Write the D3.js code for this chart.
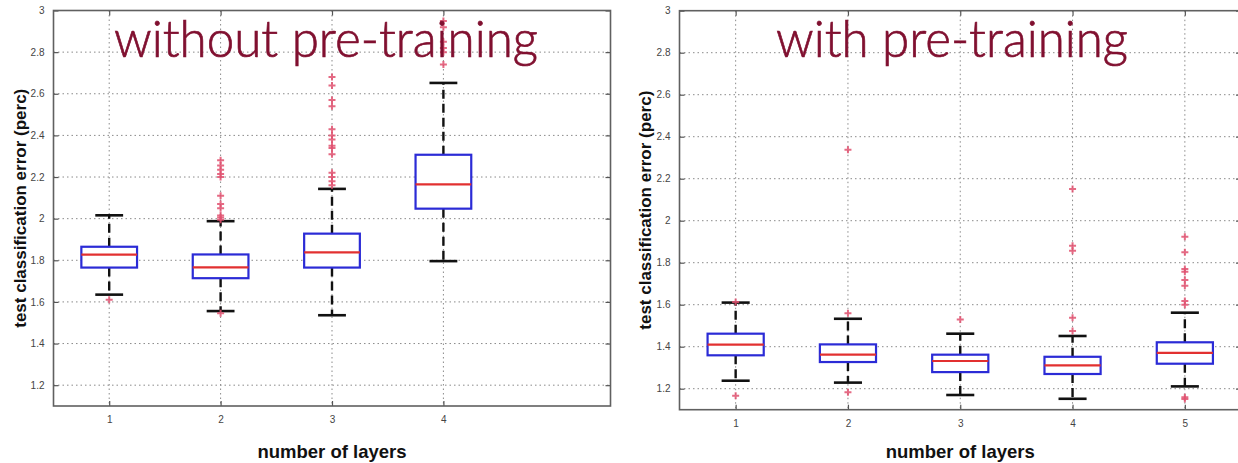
<!DOCTYPE html>
<html>
<head>
<meta charset="utf-8">
<script src="https://cdn.jsdelivr.net/npm/d3@7/dist/d3.min.js"></script>
<style>
  html, body { margin: 0; padding: 0; background: #fff; }
  svg { display: block; }
</style>
</head>
<body>
<svg id="chart" width="1238" height="463"></svg>
<script>
// ---------- DATA ----------
const yTicks = [1.2, 1.4, 1.6, 1.8, 2, 2.2, 2.4, 2.6, 2.8, 3];
const yTickLabels = ["1.2", "1.4", "1.6", "1.8", "2", "2.2", "2.4", "2.6", "2.8", "3"];

// Left panel: without pre-training
const noPreLayers = [1, 2, 3, 4];
const noPreLow  = [1.635, 1.556, 1.536, 1.796];
const noPreQ1   = [1.765, 1.714, 1.765, 2.048];
const noPreMed  = [1.827, 1.766, 1.838, 2.165];
const noPreQ3   = [1.865, 1.828, 1.928, 2.307];
const noPreHigh = [2.016, 1.988, 2.143, 2.652];
const noPreOutliers = [
  [1.61],
  [1.545, 1.995, 2.005, 2.015, 2.05, 2.07, 2.11, 2.20, 2.215, 2.235, 2.255, 2.28],
  [2.16, 2.18, 2.20, 2.22, 2.31, 2.34, 2.35, 2.38, 2.40, 2.43, 2.54, 2.57, 2.64, 2.68],
  [2.74, 2.80, 2.82, 2.85, 2.92, 2.95]
];

// Right panel: with pre-training
const preLayers = [1, 2, 3, 4, 5];
const preLow  = [1.238, 1.229, 1.170, 1.152, 1.211];
const preQ1   = [1.359, 1.327, 1.279, 1.270, 1.319];
const preMed  = [1.410, 1.362, 1.332, 1.311, 1.371];
const preQ3   = [1.462, 1.411, 1.362, 1.352, 1.421];
const preHigh = [1.610, 1.533, 1.462, 1.451, 1.562];
const preOutliers = [
  [1.167, 1.613],
  [1.183, 1.559, 2.338],
  [1.530],
  [1.475, 1.538, 1.857, 1.881, 2.151],
  [1.151, 1.159, 1.600, 1.618, 1.690, 1.718, 1.757, 1.770, 1.850, 1.924]
];

const titles = ["without pre-training", "with pre-training"];
const yLabel = "test classification error (perc)";
const xLabel = "number of layers";

// ---------- DRAW ----------
const svg = d3.select("#chart");

function drawPanel(cfg) {
  const g = svg.append("g");
  const x = d3.scaleLinear().domain([0.5, 5.5]).range([cfg.left, cfg.right]);
  const y = d3.scaleLinear().domain([1.1, 3]).range([cfg.bottom, cfg.top]);

  const plotRight = Math.min(cfg.right, 1240);

  // grid: horizontal
  g.append("g").selectAll("line").data(yTicks.slice(0, -1)).join("line")
    .attr("x1", cfg.left).attr("x2", plotRight)
    .attr("y1", d => y(d)).attr("y2", d => y(d))
    .attr("stroke", "#8a8a8a").attr("stroke-width", 1)
    .attr("stroke-dasharray", "1.5,3");
  // grid: vertical
  g.append("g").selectAll("line").data(cfg.layers).join("line")
    .attr("x1", d => x(d)).attr("x2", d => x(d))
    .attr("y1", cfg.top).attr("y2", cfg.bottom)
    .attr("stroke", "#8a8a8a").attr("stroke-width", 1)
    .attr("stroke-dasharray", "1.5,3");

  // axes via d3 axes (inward ticks)
  const yAxis = d3.axisLeft(y).tickValues(yTicks)
    .tickFormat((d, i) => yTickLabels[i]).tickSizeInner(-5).tickSizeOuter(0).tickPadding(9);
  g.append("g").attr("transform", `translate(${cfg.left},0)`).call(yAxis);
  const yAxisR = d3.axisRight(y).tickValues(yTicks).tickFormat("").tickSizeInner(-5).tickSizeOuter(0);
  g.append("g").attr("transform", `translate(${cfg.right},0)`).call(yAxisR);
  const xAxis = d3.axisBottom(x).tickValues(cfg.layers).tickFormat(d3.format("d"))
    .tickSizeInner(-5).tickSizeOuter(0).tickPadding(10);
  g.append("g").attr("transform", `translate(0,${cfg.bottom})`).call(xAxis);
  const xAxisT = d3.axisTop(x).tickValues(cfg.layers).tickFormat("").tickSizeInner(-5).tickSizeOuter(0);
  g.append("g").attr("transform", `translate(0,${cfg.top})`).call(xAxisT);

  g.selectAll(".domain").remove();
  g.selectAll(".tick line").attr("stroke", "#555").attr("stroke-width", 1.2);
  g.selectAll(".tick text").attr("fill", "#444")
    .style("font-family", "'Liberation Sans', Arial, sans-serif").style("font-size", "10px");

  // box frame
  g.append("rect")
    .attr("x", cfg.left).attr("y", cfg.top)
    .attr("width", cfg.right - cfg.left).attr("height", cfg.bottom - cfg.top)
    .attr("fill", "none").attr("stroke", "#606060").attr("stroke-width", 1.6);

  const boxW = x(0.75) - x(0.5);   // half width = 0.25 units
  const capW = x(0.625) - x(0.5);  // half cap width
  const data = cfg.layers.map((l, i) => ({
    l, low: cfg.low[i], q1: cfg.q1[i], med: cfg.med[i], q3: cfg.q3[i], high: cfg.high[i], out: cfg.out[i]
  }));

  const bx = g.append("g").selectAll("g").data(data).join("g");
  // whiskers (dashed)
  bx.append("line").attr("x1", d => x(d.l)).attr("x2", d => x(d.l))
    .attr("y1", d => y(d.q3)).attr("y2", d => y(d.high))
    .attr("stroke", "#111").attr("stroke-width", 2.4).attr("stroke-dasharray", "9,5");
  bx.append("line").attr("x1", d => x(d.l)).attr("x2", d => x(d.l))
    .attr("y1", d => y(d.q1)).attr("y2", d => y(d.low))
    .attr("stroke", "#111").attr("stroke-width", 2.4).attr("stroke-dasharray", "9,5");
  // caps
  bx.append("line").attr("x1", d => x(d.l) - capW).attr("x2", d => x(d.l) + capW)
    .attr("y1", d => y(d.high)).attr("y2", d => y(d.high))
    .attr("stroke", "#111").attr("stroke-width", 2.6);
  bx.append("line").attr("x1", d => x(d.l) - capW).attr("x2", d => x(d.l) + capW)
    .attr("y1", d => y(d.low)).attr("y2", d => y(d.low))
    .attr("stroke", "#111").attr("stroke-width", 2.6);
  // box
  bx.append("rect").attr("x", d => x(d.l) - boxW).attr("width", 2 * boxW)
    .attr("y", d => y(d.q3)).attr("height", d => y(d.q1) - y(d.q3))
    .attr("fill", "#fff").attr("stroke", "#2b2bd6").attr("stroke-width", 2.2);
  // median
  bx.append("line").attr("x1", d => x(d.l) - boxW).attr("x2", d => x(d.l) + boxW)
    .attr("y1", d => y(d.med)).attr("y2", d => y(d.med))
    .attr("stroke", "#e23030").attr("stroke-width", 2.2);
  // outliers
  bx.selectAll("path.out").data(d => d.out.map(v => ({ l: d.l, v }))).join("path")
    .attr("class", "out")
    .attr("d", d => {
      const cx = x(d.l), cy = y(d.v), s = 3.5;
      return `M${cx - s},${cy}H${cx + s}M${cx},${cy - s}V${cy + s}`;
    })
    .attr("stroke", "#e0506e").attr("stroke-opacity", 0.85).attr("stroke-width", 2).attr("fill", "none");

  // title
  g.append("text").text(cfg.title)
    .attr("x", cfg.titleX).attr("y", 57)
    .attr("textLength", cfg.titleW).attr("lengthAdjust", "spacingAndGlyphs")
    .attr("fill", "#801030").attr("stroke", "#801030").attr("stroke-width", 0.7)
    .style("font-family", "Lato, 'Open Sans', sans-serif").style("font-weight", 300)
    .style("font-size", "52px");

  // axis labels
  const cxMid = (cfg.left + cfg.right) / 2;
  g.append("text").text(xLabel)
    .attr("x", cxMid).attr("y", 458).attr("text-anchor", "middle")
    .attr("fill", "#111")
    .style("font-family", "'Liberation Sans', Arial, sans-serif").style("font-weight", "bold")
    .style("font-size", "18.5px");
  g.append("text").text(yLabel)
    .attr("transform", `translate(${cfg.yLabelX},${(cfg.top + cfg.bottom) / 2}) rotate(-90)`)
    .attr("text-anchor", "middle")
    .attr("fill", "#111")
    .style("font-family", "'Liberation Sans', Arial, sans-serif").style("font-weight", "bold")
    .style("font-size", "17px");
}

drawPanel({
  left: 53.5, right: 610.5, top: 10.5, bottom: 406,
  layers: noPreLayers, low: noPreLow, q1: noPreQ1, med: noPreMed, q3: noPreQ3, high: noPreHigh, out: noPreOutliers,
  title: titles[0], titleX: 114, titleW: 424, yLabelX: 26
});
drawPanel({
  left: 679.5, right: 1241, top: 10.7, bottom: 409.7,
  layers: preLayers, low: preLow, q1: preQ1, med: preMed, q3: preQ3, high: preHigh, out: preOutliers,
  title: titles[1], titleX: 776, titleW: 352, yLabelX: 651
});
</script>
</body>
</html>
